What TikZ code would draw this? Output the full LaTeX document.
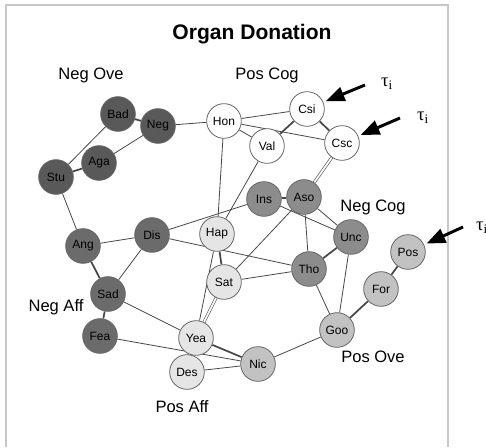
\documentclass[tikz,border=0pt]{standalone}
\usepackage{fontspec}
\setmainfont{Liberation Sans}
\newfontfamily\greekfont{Liberation Serif}
\usepackage{xcolor}
\usetikzlibrary{positioning, arrows.meta, backgrounds}

\definecolor{negove}{gray}{0.35}
\definecolor{negaff}{gray}{0.42}
\definecolor{negcog}{gray}{0.55}
\definecolor{posove}{gray}{0.76}
\definecolor{posaff}{gray}{0.90}
\definecolor{poscog}{gray}{1.00}

\newcommand{\tausub}{{\greekfont τ}\textsubscript{\greekfont i}}

\begin{document}
\begin{tikzpicture}[x=0.75pt, y=-0.75pt,
    concept/.style={circle, draw=black!60, line width=0.6pt, minimum size=26pt, inner sep=0pt, font=\fontsize{9}{10}\selectfont},
    link/.style={draw=black!72, line width=0.6pt},
    strong/.style={link, line width=1.3pt},
    twin/.style={draw=black!65, line width=0.5pt, double=white, double distance=1.3pt},
    group/.style={font=\fontsize{12.4}{14}\selectfont},
    tauarrow/.style={-{Triangle[length=14pt, width=11pt]}, line width=2.2pt, shorten >=2pt}]
  \useasboundingbox (0,0) rectangle (486,447);
  \draw[black!22, line width=0.8pt] (6,447) -- (6,5) -- (448,5) -- (448,447);

  \node[font=\bfseries\fontsize{15.8}{18}\selectfont] (title) at (252,34) {Organ Donation};

  % group labels
  \node[group] (lnegove) at (91,75) {Neg Ove};
  \node[group] (lposcog) at (267,75) {Pos Cog};
  \node[group] (lnegcog) at (373,207) {Neg Cog};
  \node[group] (lnegaff) at (56,307) {Neg Aff};
  \node[group] (lposove) at (373,357) {Pos Ove};
  \node[group] (lposaff) at (182,407) {Pos Aff};

  % negative overall
  \node[concept, fill=negove] (Bad) at (118,114) {Bad};
  \node[concept, fill=negove] (Neg) at (158,126) {Neg};
  \node[concept, fill=negove] (Aga) at (99,163) {Aga};
  \node[concept, fill=negove] (Stu) at (56,177) {Stu};

  % positive cognition
  \node[concept, fill=poscog] (Hon) at (224,121) {Hon};
  \node[concept, fill=poscog] (Csi) at (307,109) {Csi};
  \node[concept, fill=poscog] (Val) at (267,146) {Val};
  \node[concept, fill=poscog] (Csc) at (342,143) {Csc};

  % negative cognition
  \node[concept, fill=negcog] (Ins) at (264,199) {Ins};
  \node[concept, fill=negcog] (Aso) at (304,197) {Aso};
  \node[concept, fill=negcog] (Unc) at (351,237) {Unc};
  \node[concept, fill=negcog] (Tho) at (309,269) {Tho};

  % negative affect
  \node[concept, fill=negaff] (Dis) at (152,235) {Dis};
  \node[concept, fill=negaff] (Ang) at (83,246) {Ang};
  \node[concept, fill=negaff] (Sad) at (108,294) {Sad};
  \node[concept, fill=negaff] (Fea) at (100,336) {Fea};

  % positive affect
  \node[concept, fill=posaff] (Hap) at (217,234) {Hap};
  \node[concept, fill=posaff] (Sat) at (224,282) {Sat};
  \node[concept, fill=posaff] (Yea) at (196,338) {Yea};
  \node[concept, fill=posaff] (Des) at (187,372) {Des};

  % positive overall
  \node[concept, fill=posove] (Nic) at (258,364) {Nic};
  \node[concept, fill=posove] (Goo) at (337,330) {Goo};
  \node[concept, fill=posove] (For) at (381,289) {For};
  \node[concept, fill=posove] (Pos) at (408,252) {Pos};

  \begin{scope}[on background layer]
    \draw[strong] (Bad) -- (Neg);
    \draw[link] (Bad) -- (Stu);
    \draw[link] (Neg) -- (Aga);
    \draw[strong] (Aga) -- (Stu);
    \draw[link] (Neg) -- (Hon);
    \draw[link] (Stu) -- (Ang);
    \draw[link] (Hon) -- (Csi);
    \draw[link] (Hon) -- (Val);
    \draw[link] (Hon) -- (Csc);
    \draw[link] (Hon) -- (Hap);
    \draw[strong] (Csi) -- (Val);
    \draw[strong] (Csi) -- (Csc);
    \draw[link] (Val) -- (Hap);
    \draw[twin] (Csc) -- (Aso);
    \draw[strong] (Ins) -- (Aso);
    \draw[link] (Ins) -- (Dis);
    \draw[link] (Ins) -- (Unc);
    \draw[link] (Aso) -- (Unc);
    \draw[link] (Aso) -- (Tho);
    \draw[link] (Aso) -- (Sat);
    \draw[strong] (Unc) -- (Tho);
    \draw[link] (Unc) -- (Goo);
    \draw[link] (Tho) -- (Goo);
    \draw[link] (Dis) -- (Tho);
    \draw[link] (Sat) -- (Tho);
    \draw[strong] (Hap) -- (Sat);
    \draw[link] (Hap) -- (Yea);
    \draw[twin] (Sat) -- (Yea);
    \draw[link] (Dis) -- (Ang);
    \draw[link] (Dis) -- (Sad);
    \draw[strong] (Ang) -- (Sad);
    \draw[strong] (Sad) -- (Fea);
    \draw[link] (Sad) -- (Yea);
    \draw[link] (Fea) -- (Nic);
    \draw[strong] (Yea) -- (Nic);
    \draw[link] (Des) -- (Nic);
    \draw[link] (Nic) -- (Goo);
    \draw[strong] (Goo) -- (For);
    \draw[strong] (For) -- (Pos);
  \end{scope}

  % tau markers
  \coordinate (t1) at (365,85);
  \coordinate (t2) at (400,118);
  \coordinate (t3) at (463,227);
  \draw[tauarrow] (t1) -- (Csi);
  \draw[tauarrow] (t2) -- (Csc);
  \draw[tauarrow] (t3) -- (Pos);
  \node[font=\fontsize{14}{16}\selectfont] (tau1) at (387,84) {\tausub};
  \node[font=\fontsize{14}{16}\selectfont] (tau2) at (423,118) {\tausub};
  \node[font=\fontsize{14}{16}\selectfont] (tau3) at (482,228) {\tausub};
\end{tikzpicture}
\end{document}
